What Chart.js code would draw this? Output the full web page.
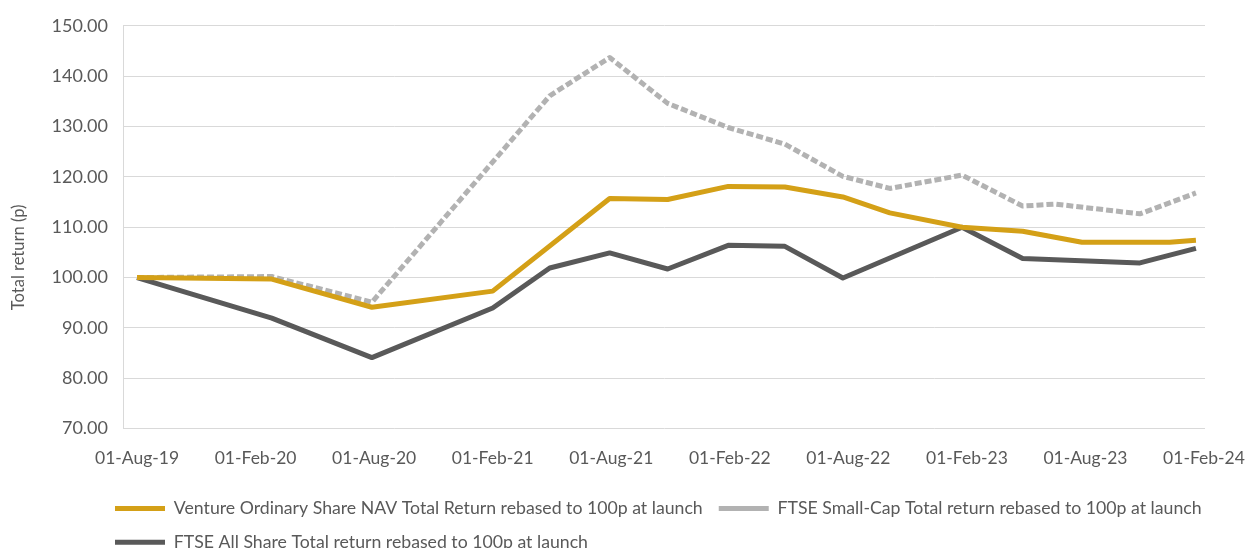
<!DOCTYPE html>
<html>
<head>
<meta charset="utf-8">
<script src="https://cdn.jsdelivr.net/npm/chart.js@4.4.1/dist/chart.umd.min.js"></script>
<style>
  html, body { margin: 0; padding: 0; background: #fff; }
  #wrap { width: 1247px; height: 548px; }
</style>
</head>
<body>
<div id="wrap"><canvas id="returnChart"></canvas></div>
<script>
// valuation dates
const dates = [
  '2019-08-01', '2020-02-26', '2020-07-28', '2021-02-01', '2021-04-28', '2021-07-29',
  '2021-10-27', '2022-01-29', '2022-04-25', '2022-07-23', '2022-10-04', '2023-01-24',
  '2023-04-26', '2023-06-15', '2023-07-26', '2023-10-24', '2023-12-09', '2024-01-19'
];

const ventureNav = [100, 99.7, 94.1, 97.3, null, 115.7, 115.5, 118.1, 118.0, 116.0, 112.85, 110.0,
  109.2, null, 107.0, null, 107.0, 107.4];
const smallCap = [100, 100.2, 95.1, null, 136.1, 143.7, 134.6, 129.8, 126.5, 120.1, 117.7, 120.35,
  114.2, 114.6, null, 112.65, null, 116.8];
const allShare = [100, 91.95, 84.1, 93.95, 101.9, 104.9, 101.7, 106.4, 106.2, 99.9, null, 110.0,
  103.8, null, null, 102.9, null, 105.8];

const seriesNames = [
  'Venture Ordinary Share NAV Total Return rebased to 100p at launch',
  'FTSE Small-Cap Total return rebased to 100p at launch',
  'FTSE All Share Total return rebased to 100p at launch'
];

// x axis labels every 6 months from 01-Aug-19
const tickMonths = [0, 6, 12, 18, 24, 30, 36, 42, 48, 54];
const tickLabels = ['01-Aug-19', '01-Feb-20', '01-Aug-20', '01-Feb-21', '01-Aug-21',
  '01-Feb-22', '01-Aug-22', '01-Feb-23', '01-Aug-23', '01-Feb-24'];

const yTitle = 'Total return (p)';

const textColor = '#595959';
const gridColor = '#D9D9D9';

// months since 01-Aug-19
function monthsFromLaunch(d) {
  const [y, m, day] = d.split('-').map(Number);
  return (y - 2019) * 12 + (m - 8) + (day - 1) / 30.44;
}

function toPoints(values) {
  return dates.map((d, i) => ({ x: monthsFromLaunch(d), y: values[i] }));
}

// put the legend block under the plot like the original (two items on the first row)
const legendShift = {
  id: 'legendShift',
  afterLayout(chart) {
    const lg = chart.legend;
    lg.left += 99;
    lg.right = 1242;
    lg.top -= 4;
  }
};

// y axis title, sitting a bit below the middle as in the original
const yTitlePlugin = {
  id: 'yTitle',
  afterDraw(chart) {
    const c = chart.ctx;
    const area = chart.chartArea;
    c.save();
    c.translate(19, area.top + (area.bottom - area.top) * 0.575);
    c.rotate(-Math.PI / 2);
    c.fillStyle = textColor;
    c.font = '16.5px Lato';
    c.textAlign = 'center';
    c.textBaseline = 'middle';
    c.fillText(yTitle, 0, 0);
    c.restore();
  }
};

const ctx = document.getElementById('returnChart').getContext('2d');
new Chart(ctx, {
  type: 'line',
  data: {
    datasets: [
      {
        label: seriesNames[0],
        data: toPoints(ventureNav),
        borderColor: '#D4A017',
        backgroundColor: '#D4A017',
        borderWidth: 5
      },
      {
        label: seriesNames[1],
        data: toPoints(smallCap),
        borderColor: '#B2B2B2',
        backgroundColor: '#B2B2B2',
        borderWidth: 5,
        borderDash: [7, 3]
      },
      {
        label: seriesNames[2],
        data: toPoints(allShare),
        borderColor: '#595959',
        backgroundColor: '#595959',
        borderWidth: 5
      }
    ]
  },
  plugins: [legendShift, yTitlePlugin],
  options: {
    responsive: true,
    maintainAspectRatio: false,
    animation: false,
    spanGaps: true,
    elements: {
      point: { radius: 0, hoverRadius: 0 },
      line: { tension: 0, borderJoinStyle: 'round' }
    },
    layout: { padding: { left: 0, right: 42, top: 25, bottom: -17 } },
    plugins: {
      tooltip: { enabled: false },
      legend: {
        position: 'bottom',
        align: 'start',
        labels: {
          usePointStyle: true,
          pointStyle: 'line',
          pointStyleWidth: 50,
          padding: 16,
          color: textColor,
          font: { family: 'Lato', size: 17.7 }
        }
      }
    },
    scales: {
      x: {
        type: 'linear',
        min: -0.71,
        max: 54.05,
        grid: { display: false, drawTicks: false },
        border: { display: false },
        afterBuildTicks: axis => { axis.ticks = tickMonths.map(v => ({ value: v })); },
        // labels may run past the plot edge, don't shrink the plot for them
        afterFit: axis => { axis.paddingLeft = 0; axis.paddingRight = 0; },
        ticks: {
          padding: 19,
          autoSkip: false,
          maxRotation: 0,
          color: textColor,
          font: { family: 'Lato', size: 17.5 },
          callback: v => tickLabels[tickMonths.indexOf(v)]
        }
      },
      y: {
        min: 70,
        max: 150,
        afterFit: axis => { axis.width = 123; },
        grid: { color: gridColor, lineWidth: 1, drawTicks: false },
        border: { display: true, color: gridColor, width: 1 },
        ticks: {
          stepSize: 10,
          padding: 15,
          color: textColor,
          font: { family: 'Lato', size: 18 },
          callback: v => v.toFixed(2)
        }
      }
    }
  }
});
</script>
</body>
</html>
